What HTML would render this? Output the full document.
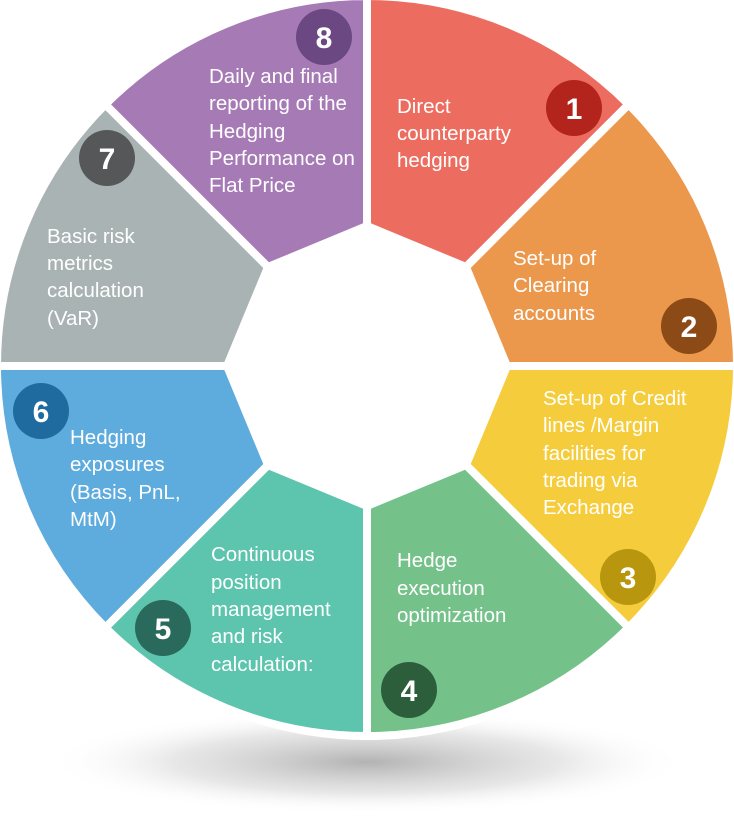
<!DOCTYPE html>
<html><head><meta charset="utf-8"><style>
html,body{margin:0;padding:0;background:#fff;}
svg{display:block}
text{font-family:"Liberation Sans",sans-serif;font-size:20.5px;fill:#fff;}
.n{font-size:30px;font-weight:bold;text-anchor:middle;}
</style></head><body>
<svg width="734" height="818" viewBox="0 0 734 818">
<defs>
<radialGradient id="sh" cx="50%" cy="50%" r="50%">
<stop offset="0" stop-color="#999" stop-opacity="0.75"/>
<stop offset="0.6" stop-color="#bbb" stop-opacity="0.35"/>
<stop offset="1" stop-color="#fff" stop-opacity="0"/>
</radialGradient>
</defs>
<ellipse cx="367" cy="762" rx="320" ry="52" fill="url(#sh)"/>
<g stroke="#fff" stroke-width="8" stroke-linejoin="miter">
<path d="M367,-4 A370,370 0 0 1 628.6,104.4 L466,267 L367,226 Z" fill="#EC6D60"/>
<path d="M628.6,104.4 A370,370 0 0 1 737,366 L507,366 L466,267 Z" fill="#EB984C"/>
<path d="M737,366 A370,370 0 0 1 628.6,627.6 L466,465 L507,366 Z" fill="#F5CD3C"/>
<path d="M628.6,627.6 A370,370 0 0 1 367,736 L367,506 L466,465 Z" fill="#74C18A"/>
<path d="M367,736 A370,370 0 0 1 105.4,627.6 L268,465 L367,506 Z" fill="#5DC4AE"/>
<path d="M105.4,627.6 A370,370 0 0 1 -3,366 L227,366 L268,465 Z" fill="#5EABDD"/>
<path d="M-3,366 A370,370 0 0 1 105.4,104.4 L268,267 L227,366 Z" fill="#A9B3B3"/>
<path d="M105.4,104.4 A370,370 0 0 1 367,-4 L367,226 L268,267 Z" fill="#A67BB5"/>
</g>
<g>
<circle cx="574" cy="108" r="28" fill="#B3241C"/>
<circle cx="689" cy="326" r="28" fill="#8C4A17"/>
<circle cx="628" cy="577" r="28" fill="#B8960E"/>
<circle cx="409" cy="690" r="28" fill="#2D5E3B"/>
<circle cx="163" cy="628" r="28" fill="#2A6A5C"/>
<circle cx="41" cy="411" r="28" fill="#1F6A9E"/>
<circle cx="107" cy="158" r="28" fill="#555758"/>
<circle cx="324" cy="37" r="28" fill="#6C4882"/>
</g>
<text class="n" x="574" y="119">1</text>
<text class="n" x="689" y="337">2</text>
<text class="n" x="628" y="588">3</text>
<text class="n" x="409" y="701">4</text>
<text class="n" x="163" y="639">5</text>
<text class="n" x="41" y="422">6</text>
<text class="n" x="107" y="169">7</text>
<text class="n" x="324" y="48">8</text>

<text x="397" y="113">Direct</text>
<text x="397" y="140">counterparty</text>
<text x="397" y="167">hedging</text>

<text x="513" y="265">Set-up of</text>
<text x="513" y="292">Clearing</text>
<text x="513" y="320">accounts</text>

<text x="543" y="405">Set-up of Credit</text>
<text x="543" y="432">lines /Margin</text>
<text x="543" y="460">facilities for</text>
<text x="543" y="487">trading via</text>
<text x="543" y="514">Exchange</text>

<text x="397" y="567">Hedge</text>
<text x="397" y="595">execution</text>
<text x="397" y="622">optimization</text>

<text x="211" y="561">Continuous</text>
<text x="211" y="589">position</text>
<text x="211" y="616">management</text>
<text x="211" y="643">and risk</text>
<text x="211" y="671">calculation:</text>

<text x="70" y="444">Hedging</text>
<text x="70" y="471">exposures</text>
<text x="70" y="499">(Basis, PnL,</text>
<text x="70" y="526">MtM)</text>

<text x="47" y="243">Basic risk</text>
<text x="47" y="270">metrics</text>
<text x="47" y="297">calculation</text>
<text x="47" y="325">(VaR)</text>

<text x="209" y="83">Daily and final</text>
<text x="209" y="110">reporting of the</text>
<text x="209" y="138">Hedging</text>
<text x="209" y="165">Performance on</text>
<text x="209" y="192">Flat Price</text>
</svg>
</body></html>
